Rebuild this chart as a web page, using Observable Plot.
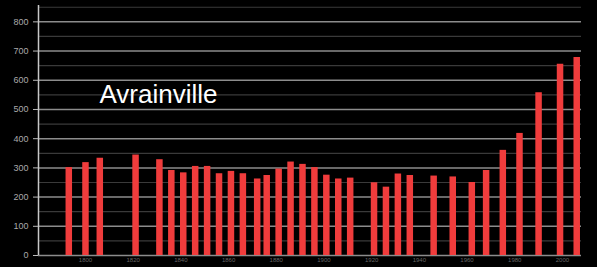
<!DOCTYPE html>
<html>
<head>
<meta charset="utf-8">
<script src="https://cdn.jsdelivr.net/npm/d3@7"></script>
<script src="https://cdn.jsdelivr.net/npm/@observablehq/plot@0.6"></script>
<style>
  html, body { margin: 0; padding: 0; background: #000; }
  #chart svg { display: block; }
</style>
</head>
<body>
<div id="chart"></div>
<script>
const years = [1793,1800,1806,1821,1831,1836,1841,1846,1851,1856,1861,1866,1872,1876,1881,1886,1891,1896,1901,1906,1911,1921,1926,1931,1936,1946,1954,1962,1968,1975,1982,1990,1999,2006];
const population = [301,318,333,344,328,291,283,305,305,280,288,280,262,274,296,320,312,301,275,262,265,249,234,279,274,272,269,250,291,360,418,557,655,678];
const majorTicks = [0,100,200,300,400,500,600,700,800];
const minorTicks = [50,150,250,350,450,550,650,750,850];
const xTicks = [1800,1820,1840,1860,1880,1900,1920,1940,1960,1980,2000];
const title = "Avrainville";

const data = years.map((y, i) => ({year: y, pop: population[i]}));
const xDomain = [1780.3, 2008];

const chart = Plot.plot({
  width: 597,
  height: 267,
  marginLeft: 38,
  marginRight: 16,
  marginTop: 5,
  marginBottom: 12,
  style: {background: "#000", color: "#bbb", fontFamily: "Liberation Sans, Arial, sans-serif"},
  x: {domain: xDomain},
  y: {domain: [0, 856]},
  marks: [
    Plot.ruleY(minorTicks, {x1: xDomain[0], x2: xDomain[1], stroke: "#3a3a3a", strokeWidth: 1.2}),
    Plot.ruleY(majorTicks, {x1: xDomain[0], x2: xDomain[1], stroke: "#8c8c8c", strokeWidth: 1.5}),
    Plot.ruleX(data, {x: "year", y: "pop", stroke: "#f03c3c", strokeWidth: 6.5}),
    Plot.ruleX([xDomain[0]], {stroke: "#c8c8c8", strokeWidth: 1.5}),
    Plot.axisY({ticks: majorTicks, tickSize: 5, tickPadding: 5, fontSize: 9, stroke: "#bbb", fill: "#aaa", label: null}),
    Plot.axisX({ticks: xTicks, tickSize: 0, tickPadding: 2, fontSize: 6, fill: "#666", label: null, tickFormat: d => String(d)}),
    Plot.text([title], {frameAnchor: "top-left", dx: 61, dy: 97, lineAnchor: "bottom", textAnchor: "start", fill: "#fff", fontSize: 26, fontFamily: "Liberation Sans, Arial, sans-serif"})
  ]
});
document.getElementById("chart").appendChild(chart);
</script>
</body>
</html>
